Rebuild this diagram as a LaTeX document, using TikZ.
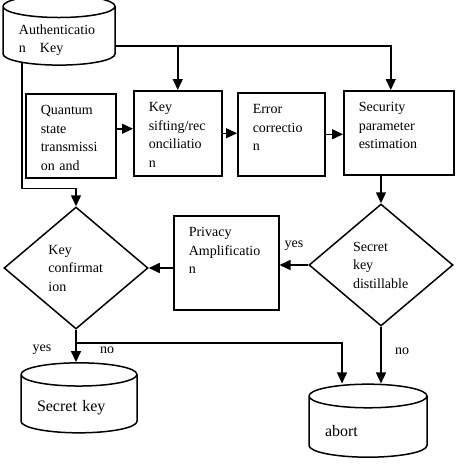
\documentclass[tikz,border=0pt]{standalone}
\usepackage{fontspec}
\setmainfont{Liberation Serif}
\usetikzlibrary{shapes.geometric,arrows.meta,calc}
\tikzset{
  box/.style={draw, line width=1.5pt, anchor=north west, align=left,
    inner xsep=15pt, inner ysep=8pt, text height=13pt},
  decide/.style={draw, diamond, line width=1.5pt, align=left, inner sep=0pt,
    minimum width=144pt, minimum height=122pt},
  store/.style={draw, cylinder, shape border rotate=90, aspect=0.2,
    line width=1.5pt, align=left, inner xsep=16pt},
  flow/.style={line width=1.5pt, -{Triangle[length=11pt,width=10pt]}},
}
\begin{document}
\begin{tikzpicture}[x=1pt, y=-1pt, font=\fontsize{14}{18.5}\selectfont]
\useasboundingbox (0,0) rectangle (457,469);
% stores and steps
\node[store, text width=80pt, minimum width=112pt, minimum height=70pt] (auth) at (59,40) {Authenticatio\\n\quad Key};
\node[box, text width=60pt, text depth=55pt] (quantum) at (25,93) {Quantum\\state\\transmissi\\on and};
\node[box, text width=58pt, text depth=56pt] (sift) at (133,90) {Key\\sifting/rec\\onciliatio\\n};
\node[box, text width=57pt, text depth=54pt] (error) at (237,92) {Error\\correctio\\n};
\node[box, text width=80pt, text depth=55pt] (secparam) at (343,90) {Security\\parameter\\estimation};
\node[decide, text width=56pt] (distill) at (381,265) {Secret\\key\\distillable};
\node[box, text width=75pt, text depth=65pt] (privacy) at (173,215) {Privacy\\Amplificatio\\n};
\node[decide, text width=55pt] (confirm) at (76,268) {Key\\confirmat\\ion};
\node[store, text width=84pt, minimum width=116pt, minimum height=70pt,
  font=\fontsize{16}{19}\selectfont] (secret) at (79,408) {Secret key};
\node[store, text width=86pt, minimum width=118pt, minimum height=73pt,
  font=\fontsize{16}{19}\selectfont] (abort) at (368,431) {abort};
% answers
\node (yesA) at (294,246) {yes};
\node (yesB) at (42,350) {yes};
\node (noB) at (107,350) {no};
\node (noA) at (402,351) {no};
% connectors
\coordinate (tap) at ($(auth.east)+(0,6)$);
\draw[flow] (tap) -| ([xshift=-8pt]secparam.north);
\draw[flow] (tap -| sift.north) -- (sift.north);
\draw[flow] ($(auth.south)+(-37,-3)$) |- ($(confirm.north)+(0,-18)$) -- (confirm.north);
\draw[flow] ([yshift=7pt]quantum.east) -- ([yshift=7pt]quantum.east -| sift.west);
\draw[flow] (sift.east) -- (sift.east -| error.west);
\draw[flow] (error.east) -- (error.east -| secparam.west);
\draw[flow] (distill.north |- secparam.south) -- (distill.north);
\draw[flow] (distill.west) -- (distill.west -| privacy.east);
\draw[flow] (confirm.east -| privacy.west) -- (confirm.east);
\draw[flow] (confirm.south) -- (confirm.south |- secret.north);
\draw[flow] ($(confirm.south)+(0,13)$) -| ([xshift=-26pt]abort.north);
\draw[flow] (distill.south) -- (distill.south |- abort.north);
\end{tikzpicture}
\end{document}
